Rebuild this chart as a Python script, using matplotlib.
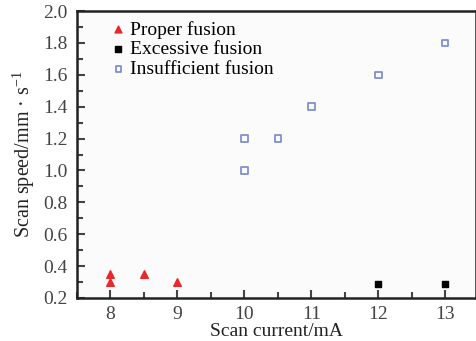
import matplotlib
matplotlib.use('Agg')
import matplotlib.pyplot as plt
from matplotlib.ticker import MultipleLocator, FormatStrFormatter

plt.rcParams['font.family'] = ['Liberation Serif', 'DejaVu Serif']
plt.rcParams['mathtext.fontset'] = 'custom'
plt.rcParams['mathtext.rm'] = 'Liberation Serif'

# Data
proper_x = [8, 8, 8.5, 9]
proper_y = [0.35, 0.30, 0.35, 0.30]
excess_x = [12, 13]
excess_y = [0.29, 0.29]
insuff_x = [10, 10, 10.5, 11, 12, 13]
insuff_y = [1.2, 1.0, 1.2, 1.4, 1.6, 1.8]
x_ticks = [8, 9, 10, 11, 12, 13]

fig = plt.figure(figsize=(4.77, 3.41), dpi=100)
ax = fig.add_axes([77 / 477, 43 / 341, 399 / 477, 287 / 341])
ax.set_facecolor('#fbfbfb')

ax.scatter(proper_x, proper_y, marker='^', s=30, color='#e8282a', label='Proper fusion', zorder=3)
ax.scatter(excess_x, excess_y, marker='s', s=22, color='black', label='Excessive fusion', zorder=3)
ax.scatter(insuff_x, insuff_y, marker='s', s=22, facecolor='none', edgecolor='#7f90d0',
           linewidth=1.3, label='Insufficient fusion', zorder=3)

ax.set_xlim(7.5, 13.46)
ax.set_ylim(0.2, 2.0)
ax.set_xticks(x_ticks)
ax.xaxis.set_minor_locator(MultipleLocator(0.5))
ax.yaxis.set_major_locator(MultipleLocator(0.2))
ax.yaxis.set_minor_locator(MultipleLocator(0.1))
ax.yaxis.set_major_formatter(FormatStrFormatter('%.1f'))
ax.tick_params(which='both', direction='in', top=False, right=False, labelsize=14,
               colors='#444444', width=1.5)
ax.tick_params(which='major', length=6)
ax.tick_params(which='minor', length=4)
ax.tick_params(axis='x', pad=6)
ax.tick_params(axis='y', pad=7)
for s in ax.spines.values():
    s.set_linewidth(1.8)
    s.set_color('#222222')

ax.set_xlabel('Scan current/mA', fontsize=14, labelpad=0, color='#222222')
ax.set_ylabel('Scan speed/mm \u00b7 s$^{-1}$', fontsize=14.5, labelpad=4, color='#222222')

ax.legend(loc='upper left', frameon=False, fontsize=14, handletextpad=0.3,
          handlelength=0.6, borderaxespad=0.1, labelspacing=0.1, markerscale=0.9,
          bbox_to_anchor=(0.065, 1.0))

fig.savefig('out.png', dpi=100)
